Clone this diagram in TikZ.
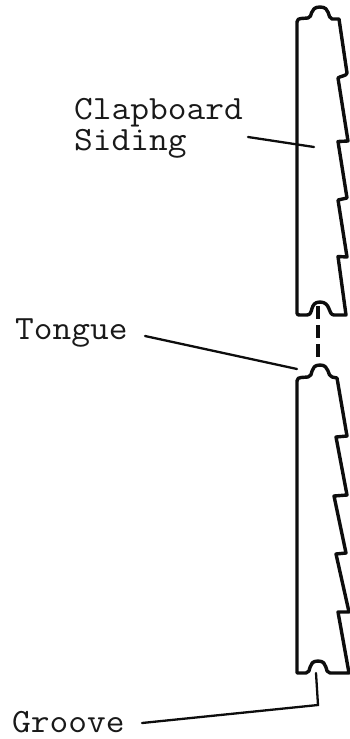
\documentclass[tikz,border=0pt]{standalone}
\tikzset{
  board/.style={line width=3.4pt,black!95,line join=round},
  leader/.style={line width=2.3pt,black!95,line cap=round},
  label/.style={inner sep=0pt,anchor=base west,xscale=1.07,transform shape,font=\fontsize{34}{36}\selectfont\ttfamily,black!90},
  joint/.style={line width=3.4pt,black!95},
}
\begin{document}
\begin{tikzpicture}[x=1pt,y=-1pt]
\useasboundingbox (0,0) rectangle (350,739);
% upper board
\draw[board] (297,313) -- (297,22) .. controls (297,19) and (299,19) .. (301,18.5) -- (308,18)
  .. controls (313,17.5) and (309,7) .. (320,7) .. controls (331,7) and (327,18) .. (332,19) -- (339,19)
  -- (347,73) .. controls (347,76) and (340,76) .. (338,78) -- (348,141) -- (338,141.5)
  -- (347,198) -- (338,200) -- (347,257) -- (338,256.5) -- (346,315) -- (334,315)
  .. controls (328,315) and (331,302) .. (320,302) .. controls (309,302) and (314,315) .. (307,315)
  -- (300,315) .. controls (298,315) and (297,315) .. (297,313) -- cycle;
% lower board
\draw[board] (297,673) -- (297,381) .. controls (297,378) and (299,378) .. (301,377.5) -- (308,377)
  .. controls (314,376.5) and (309,365) .. (320,365) .. controls (330,365) and (327,376) .. (332,377) -- (337,378)
  -- (347,436) -- (336,437) -- (347,495) -- (334,496) -- (346,553) -- (336,554) -- (349,612) -- (338,612)
  -- (349,673) -- (330,673) .. controls (324,673) and (329,661) .. (318,661) .. controls (307,661) and (312,673) .. (306,673)
  -- cycle;
% labels
\node[label] (clap) at (74,119) {Clapboard};
\node[label] (sid) at (74,150) {Siding};
\node[label] (tong) at (15,339) {Tongue};
\node[label] (groo) at (12,732) {Groove};
% connector end points
\coordinate (cs) at (248,137);
\coordinate (ce) at (314,147);
\coordinate (ts) at (145,336);
\coordinate (te) at (297,369);
\coordinate (gs) at (142,723);
\coordinate (gk) at (318,705);
\coordinate (ge) at (316,673);
\coordinate (j1) at (318,306);
\coordinate (j2) at (318,358);
\draw[leader] (cs) -- (ce);
\draw[leader] (ts) -- (te);
\draw[leader] (gs) -- (gk) -- (ge);
\draw[joint,dash pattern=on 13pt off 6pt] (j1) -- (j2);
\end{tikzpicture}
\end{document}
